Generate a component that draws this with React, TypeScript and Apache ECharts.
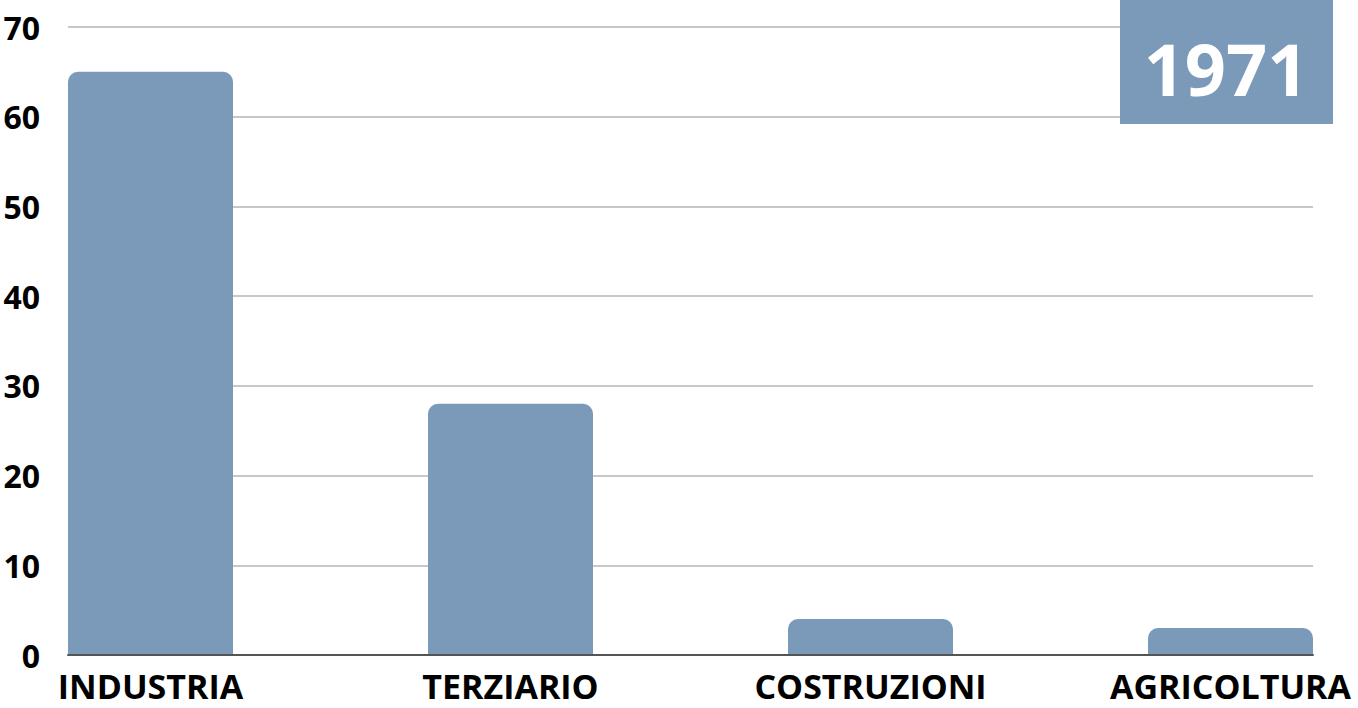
import React, { useEffect, useRef } from "react";
import * as echarts from "echarts";

const categories = ["INDUSTRIA", "TERZIARIO", "COSTRUZIONI", "AGRICOLTURA"];
const values = [65, 28, 4, 3];
const yearLabel = "1971";

const BAR = "#7b9aba";
const FONT = "'Open Sans', sans-serif";

export default function App() {
  const ref = useRef<HTMLDivElement>(null);
  useEffect(() => {
    if (!ref.current) return;
    const chart = echarts.init(ref.current, null, { renderer: "svg" });
    const positions = categories.map((_, i) => i);
    chart.setOption({
      animation: false,
      backgroundColor: "#ffffff",
      grid: { left: 68, right: 45, top: 27, bottom: 53 },
      xAxis: {
        type: "value",
        min: -0.2292,
        max: 3.2292,
        axisLine: { show: true, onZero: false, lineStyle: { color: "#555555", width: 2 } },
        axisTick: { show: false },
        splitLine: { show: false },
        axisLabel: {
          show: true,
          customValues: positions,
          formatter: (v: number) => categories[Math.round(v)] ?? "",
          margin: 16,
          lineHeight: 30,
          fontFamily: FONT,
          fontWeight: "bold",
          fontSize: 34,
          color: "#000000",
        },
        z: 5,
      },
      yAxis: {
        type: "value",
        min: 0,
        max: 70,
        interval: 10,
        axisLine: { show: false },
        axisTick: { show: false },
        axisLabel: {
          margin: 28,
          fontFamily: FONT,
          fontWeight: "bold",
          fontSize: 32,
          color: "#000000",
        },
        splitLine: { show: true, lineStyle: { color: "#c8c8c8", width: 2 } },
      },
      series: [
        {
          type: "bar",
          data: values.map((v, i) => [positions[i], v]),
          barWidth: 165,
          itemStyle: { color: BAR, borderRadius: [10, 10, 0, 0] },
          z: 2,
        },
      ],
      graphic: [
        {
          type: "rect",
          shape: { x: 1120, y: 0, width: 213, height: 124 },
          style: { fill: BAR },
          z: 10,
        },
        {
          type: "text",
          x: 1226,
          y: 68,
          style: {
            text: yearLabel,
            fill: "#ffffff",
            font: `bold 72px ${FONT}`,
            textAlign: "center",
            textVerticalAlign: "middle",
          },
          z: 11,
        },
      ],
    });
    return () => chart.dispose();
  }, []);
  return <div ref={ref} style={{ width: 1358, height: 708, position: "absolute", left: 0, top: 0 }} />;
}
